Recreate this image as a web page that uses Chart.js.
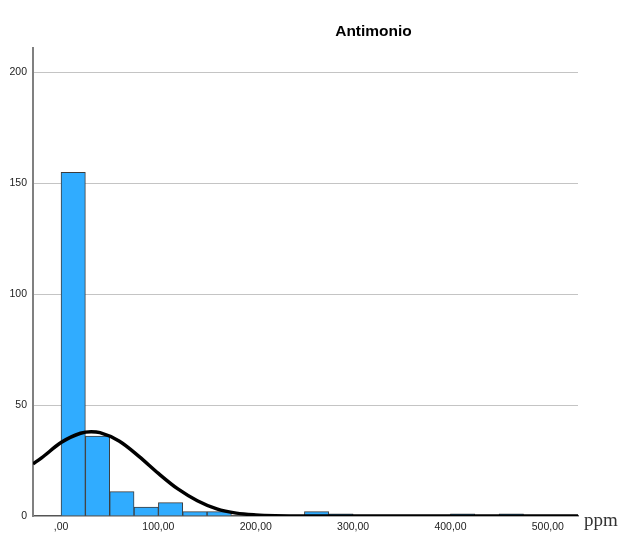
<!DOCTYPE html>
<html lang="es">
<head>
  <meta charset="UTF-8" />
  <title>Antimonio</title>
  <script src="https://cdn.jsdelivr.net/npm/chart.js"></script>
  <style>
    html, body { margin: 0; padding: 0; background: #fff; }
    #wrap { width: 628px; height: 536px; position: relative; }
  </style>
</head>
<body>
  <div id="wrap"><canvas id="histo"></canvas></div>

  <script>
    // histogram bins (start of each 25 ppm bin) and counts
    const binStarts = [0, 25, 50, 75, 100, 125, 150, 175, 200, 225, 250, 275, 300, 325, 350, 375, 400, 425, 450];
    const counts    = [155, 36, 11, 4, 6, 2, 2, 0, 0, 0, 2, 1, 0, 0, 0, 0, 1, 0, 1];
    const binWidth = 25;

    // normal curve
    const curveX = [-28.8, -20, 0, 20, 31, 40, 60, 80, 100, 120, 140, 160, 180, 200, 220, 250, 300, 400, 531];
    const curveY = [23.5, 26.2, 33.1, 37.3, 38, 37.6, 33.7, 26.9, 19.2, 12.2, 6.9, 3.2, 1.3, 0.5, 0.15, 0, 0, 0, 0];

    const yTicks = [0, 50, 100, 150, 200];
    const xTicks = [0, 100, 200, 300, 400, 500];

    const textPlugin = {
      id: 'texts',
      afterDraw(chart) {
        const ctx = chart.ctx;
        ctx.save();
        ctx.fillStyle = '#000';
        ctx.textAlign = 'center';
        ctx.textBaseline = 'middle';
        ctx.font = 'bold 15.5px "Liberation Sans", Arial, sans-serif';
        ctx.fillText('Antimonio', 373.5, 32);
        ctx.textAlign = 'left';
        ctx.font = '19px "Liberation Serif", "Times New Roman", serif';
        ctx.fillStyle = '#333';
        ctx.fillText('ppm', 584, 521);
        ctx.restore();
      }
    };

    new Chart(document.getElementById('histo'), {
      type: 'bar',
      data: {
        datasets: [
          {
            type: 'line',
            label: 'Normal',
            data: curveX.map((x, i) => ({ x: x, y: curveY[i] })),
            borderColor: '#000',
            borderWidth: 3.5,
            pointRadius: 0,
            cubicInterpolationMode: 'monotone',
            fill: false,
            order: 0
          },
          {
            label: 'Frecuencia',
            data: binStarts.map((s, i) => ({ x: s + binWidth / 2, y: counts[i] })),
            backgroundColor: '#30acff',
            borderColor: '#3c3c3c',
            borderWidth: 1,
            borderSkipped: 'bottom',
            barPercentage: 1,
            categoryPercentage: 1,
            order: 1
          }
        ]
      },
      options: {
        responsive: true,
        maintainAspectRatio: false,
        animation: false,
        layout: { padding: { top: 48, right: 50, left: 0, bottom: 0 } },
        plugins: {
          legend: { display: false },
          tooltip: { enabled: false }
        },
        scales: {
          x: {
            type: 'linear',
            offset: false,
            min: -28.8,
            max: 531,
            afterBuildTicks: s => { s.ticks = xTicks.map(v => ({ value: v })); },
            afterFit: s => { s.height = 20; },
            grid: { display: false, drawTicks: false, offset: false },
            border: { display: true, color: '#555', width: 1.5 },
            ticks: {
              padding: 5,
              color: '#222',
              font: { family: '"Liberation Sans", Arial, sans-serif', size: 10.5 },
              callback: v => (v === 0 ? ',00' : v + ',00')
            }
          },
          y: {
            min: 0,
            max: 211,
            afterBuildTicks: s => { s.ticks = yTicks.map(v => ({ value: v })); },
            afterFit: s => { s.width = 33; },
            grid: {
              color: ctx => (ctx.tick && ctx.tick.value === 0 ? 'rgba(0,0,0,0)' : '#c4c4c4'),
              lineWidth: 1,
              drawTicks: false
            },
            border: { display: true, color: '#808080', width: 2 },
            ticks: {
              padding: 6,
              color: '#222',
              font: { family: '"Liberation Sans", Arial, sans-serif', size: 10.5 }
            }
          }
        }
      },
      plugins: [textPlugin]
    });
  </script>
</body>
</html>
